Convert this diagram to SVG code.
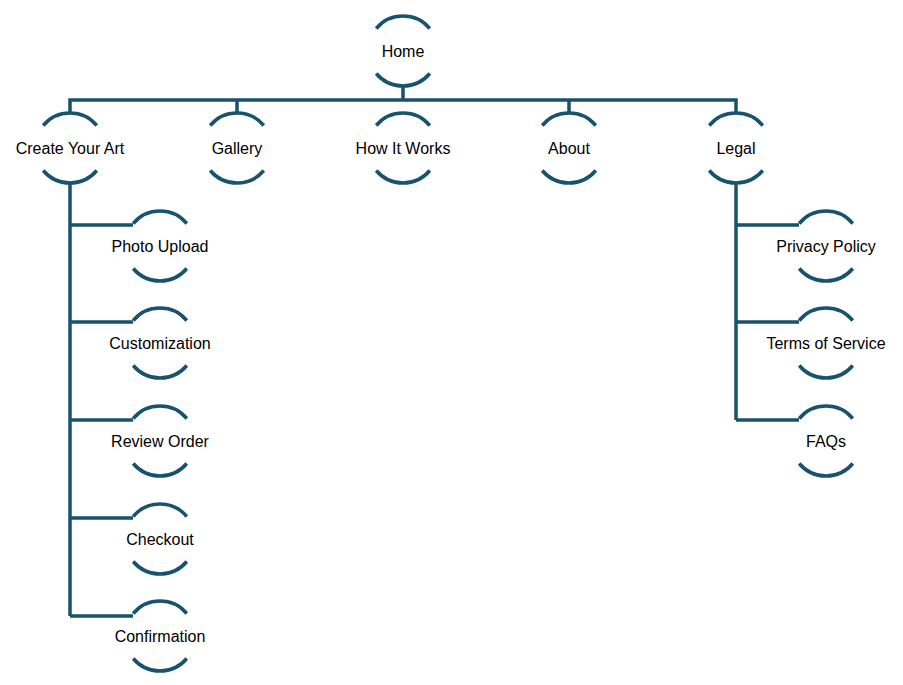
<svg xmlns="http://www.w3.org/2000/svg" width="903" height="685" viewBox="0 0 903 685">
<style>
.a{fill:none;stroke:#18536e;stroke-width:3.5}
.c{fill:none;stroke:#18536e;stroke-width:3.5}
text{font-family:"Liberation Sans",Arial,sans-serif;font-size:16px;fill:#000;text-anchor:middle;dominant-baseline:central}
</style>
<defs>
<path id="arc" class="a" d="M-26.8,-22.5 A35,35 0 0 1 26.8,-22.5 M-26.8,22.5 A35,35 0 0 0 26.8,22.5"/>
</defs>
<g id="connectors">
<path class="c" d="M403,86V100 M70,113V100H736V113 M237,100V113 M569,100V113"/>
<path class="c" d="M70,183V616 M70,225H133 M70,322H133 M70,420H133 M70,518H133 M70,616H133"/>
<path class="c" d="M736,183V420 M736,225H799 M736,322H799 M736,420H799"/>
</g>
<g id="home"><use href="#arc" x="403" y="51"/><text x="403" y="51">Home</text></g>
<g id="create"><use href="#arc" x="70" y="148"/><text x="70" y="148">Create Your Art</text></g>
<g id="gallery"><use href="#arc" x="237" y="148"/><text x="237" y="148">Gallery</text></g>
<g id="how"><use href="#arc" x="403" y="148"/><text x="403" y="148">How It Works</text></g>
<g id="about"><use href="#arc" x="569" y="148"/><text x="569" y="148">About</text></g>
<g id="legal"><use href="#arc" x="736" y="148"/><text x="736" y="148">Legal</text></g>
<g id="photo"><use href="#arc" x="160" y="246"/><text x="160" y="246">Photo Upload</text></g>
<g id="custom"><use href="#arc" x="160" y="343"/><text x="160" y="343">Customization</text></g>
<g id="review"><use href="#arc" x="160" y="441"/><text x="160" y="441">Review Order</text></g>
<g id="checkout"><use href="#arc" x="160" y="539"/><text x="160" y="539">Checkout</text></g>
<g id="confirm"><use href="#arc" x="160" y="636"/><text x="160" y="636">Confirmation</text></g>
<g id="privacy"><use href="#arc" x="826" y="246"/><text x="826" y="246">Privacy Policy</text></g>
<g id="terms"><use href="#arc" x="826" y="343"/><text x="826" y="343">Terms of Service</text></g>
<g id="faqs"><use href="#arc" x="826" y="441"/><text x="826" y="441">FAQs</text></g>
</svg>
